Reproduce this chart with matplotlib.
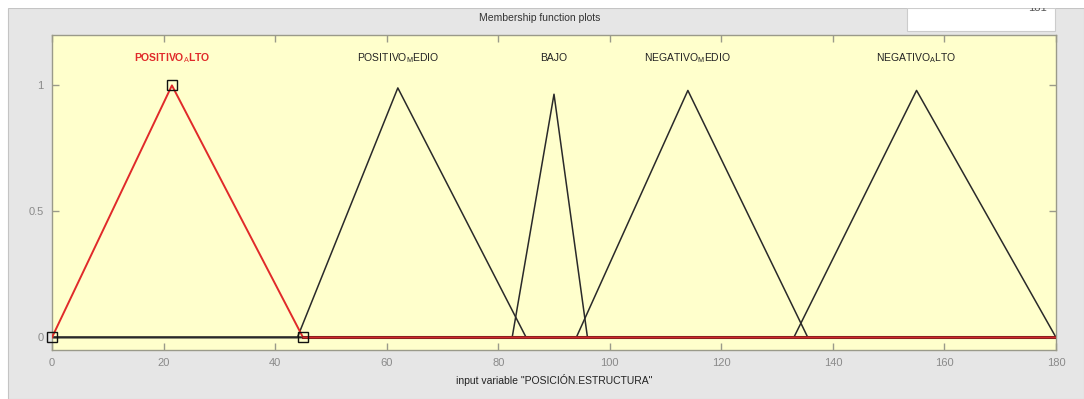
import numpy as np
import matplotlib
matplotlib.use("Agg")
import matplotlib.pyplot as plt
from matplotlib.patches import Rectangle

plt.rcParams['font.family'] = ['Liberation Sans', 'DejaVu Sans']
plt.rcParams['mathtext.fontset'] = 'custom'
plt.rcParams['mathtext.rm'] = 'Liberation Sans'
plt.rcParams['mathtext.it'] = 'Liberation Sans'

# membership functions: (a, b, c) of each triangle
MF_LABELS = [
    r'POSITIVO$_{\mathrm{A}}$LTO',
    r'POSITIVO$_{\mathrm{M}}$EDIO',
    'BAJO',
    r'NEGATIVO$_{\mathrm{M}}$EDIO',
    r'NEGATIVO$_{\mathrm{A}}$LTO',
]
MF_PARAMS = [
    [0, 21.5, 45],
    [44, 62, 85],
    [82.5, 90, 96],
    [94, 114, 135.5],
    [133, 155, 180],
]
MF_PEAKS = [1.0, 0.99, 0.965, 0.98, 0.98]
SELECTED = 0

X_RANGE = [0, 180]
X_TICKS = [0, 20, 40, 60, 80, 100, 120, 140, 160, 180]
Y_TICKS = [0, 0.5, 1]
Y_TICK_LABELS = ['0', '0.5', '1']

W, H = 1084, 399
fig = plt.figure(figsize=(W / 100, H / 100), dpi=100)
fig.patch.set_facecolor('white')

# window background
fig.patches.append(Rectangle((8 / W, 0), 1 - 8 / W, 1 - 8 / H, transform=fig.transFigure,
                             facecolor='#e6e6e6', edgecolor='#c4c4c4', lw=0.8, zorder=-2))
# small white box top right
fig.patches.append(Rectangle((907 / W, 1 - 31 / H), 148 / W, 23 / H, transform=fig.transFigure,
                             facecolor='white', edgecolor='#cccccc', lw=0.8, zorder=-1))
fig.text(1047 / W, 1 - 8 / H, '181', ha='right', va='center', fontsize=8,
         color='#555555', zorder=5)
fig.patches.append(Rectangle((0, 1 - 8 / H), 1, 8 / H, transform=fig.transFigure,
                             facecolor='white', edgecolor='none', zorder=10))
fig.text(540 / W, 1 - 18 / H, 'Membership function plots', ha='center', va='center',
         fontsize=7.5, color='#333333')

ax = fig.add_axes([52 / W, 1 - 350 / H, 1004 / W, 315 / H])
ax.set_zorder(3)
ax.set_facecolor('#ffffcc')

for i, (p, peak) in enumerate(zip(MF_PARAMS, MF_PEAKS)):
    if i == SELECTED:
        continue
    xs = [X_RANGE[0], p[0], p[1], p[2], X_RANGE[1]]
    ys = [0, 0, peak, 0, 0]
    ax.plot(xs, ys, color='#2a2a2a', lw=1.1, zorder=2)

p = MF_PARAMS[SELECTED]
xs = [X_RANGE[0], p[0], p[1], p[2], X_RANGE[1]]
ys = [0, 0, MF_PEAKS[SELECTED], 0, 0]
ax.plot(xs[1:4], ys[1:4], color='#e02a2a', lw=1.4, zorder=3)
ax.plot(xs[3:], ys[3:], color='#8a1f1f', lw=2.2, zorder=3)
ax.plot(xs[3:], ys[3:], color='#d02a2a', lw=0.8, zorder=3)
ax.plot(p, [0, MF_PEAKS[SELECTED], 0], ls='none', marker='s', ms=6.5,
        mfc='none', mec='#111111', mew=1.0, zorder=4, clip_on=False)

for i, (lab, p, peak) in enumerate(zip(MF_LABELS, MF_PARAMS, MF_PEAKS)):
    sel = i == SELECTED
    ax.text(p[1], 1.11, lab, ha='center', va='center', fontsize=7.5,
            color='#e02a2a' if sel else '#222222',
            fontweight='bold' if sel else 'normal')

ax.set_xlim(X_RANGE)
ax.set_ylim(-0.05, 1.2)
ax.set_xticks(X_TICKS)
ax.set_yticks(Y_TICKS)
ax.set_yticklabels(Y_TICK_LABELS)
ax.tick_params(direction='in', length=5, width=1, color='#9a9a8a', labelcolor='#8a8a8a',
               labelsize=8, top=True, right=True, pad=6)
for s in ax.spines.values():
    s.set_color('#9a9a8a')
    s.set_linewidth(1.0)
ax.set_xlabel('input variable "POSICIÓN.ESTRUCTURA"', fontsize=7.5, color='#222222',
              labelpad=4)

fig.savefig('out.png', dpi=100)
